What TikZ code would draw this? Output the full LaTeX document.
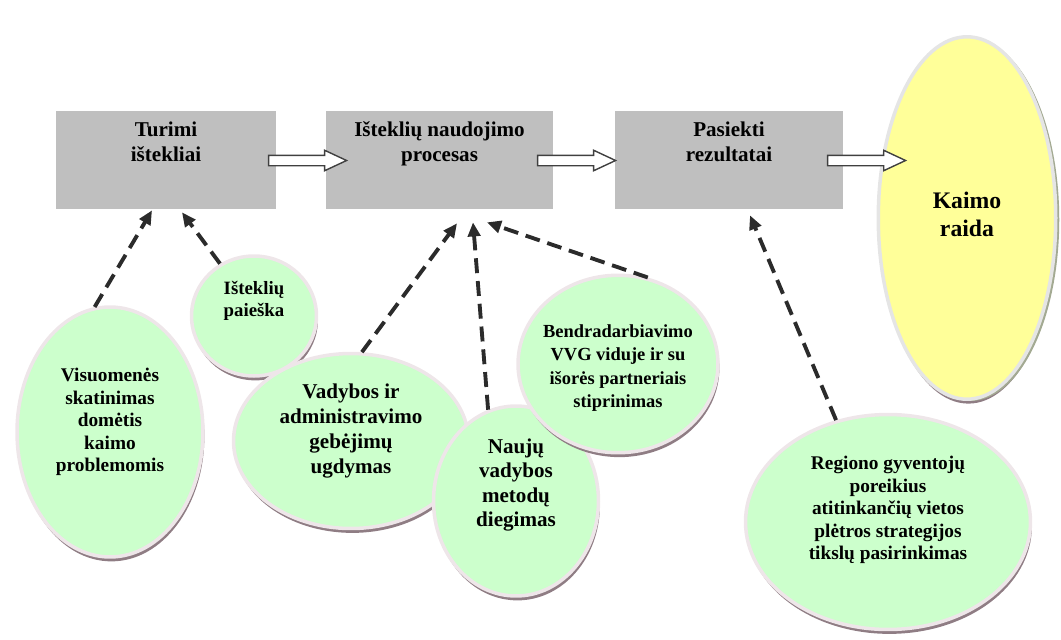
\documentclass[tikz,border=0pt]{standalone}
\usepackage{fontspec}
\setmainfont{Liberation Serif}
\usetikzlibrary{shapes.geometric,shapes.arrows,shadows,arrows.meta,positioning,calc}

\definecolor{boxgray}{HTML}{BFBFBF}
\definecolor{bubblegreen}{HTML}{CCFFCC}
\definecolor{bubbleyellow}{HTML}{FFFF99}
\definecolor{rimcolor}{HTML}{EEE6E9}
\definecolor{shadowcolor}{HTML}{8F7D84}
\definecolor{yshadow}{HTML}{A3AA92}
\definecolor{dashcolor}{HTML}{2B2B2B}

\tikzset{
  box/.style={rectangle, fill=boxgray, inner sep=0, minimum height=1.96cm},
  bubble/.style={ellipse, fill=bubblegreen, draw=rimcolor, line width=2pt, inner sep=0,
    drop shadow={shadow xshift=0.8pt, shadow yshift=-2.5pt, fill=shadowcolor, opacity=1}},
  txt/.style={inner sep=0, align=center},
  blockarr/.style={single arrow, draw=black!75, fill=white, line width=0.8pt, inner sep=0.09cm,
    minimum height=1.56cm, single arrow head extend=0.1cm, single arrow tip angle=50},
  dasharrow/.style={-{Triangle[length=8pt,width=7pt]}, draw=dashcolor, line width=2.2pt,
    dash pattern=on 8.5pt off 4.5pt}
}

\begin{document}
\begin{tikzpicture}[x=0.02cm, y=-0.02cm]
        \useasboundingbox (0,0) rectangle (1061,639);

        % Process chain
        \node[box, minimum width=4.4cm] (turimi) at (166,160) {};
        \node[box, minimum width=4.54cm] (procesas) at (439.5,160) {};
        \node[box, minimum width=4.56cm] (rezultatai) at (729,160) {};
        \node[txt, font=\bfseries\fontsize{12}{14.2}\selectfont, below=0.22cm of turimi.north] (turimitxt) {Turimi\\ištekliai};
        \node[txt, font=\bfseries\fontsize{12}{14.2}\selectfont, below=0.22cm of procesas.north] (procesastxt) {Išteklių naudojimo\\procesas};
        \node[txt, font=\bfseries\fontsize{12}{14.2}\selectfont, below=0.22cm of rezultatai.north] (rezultataitxt) {Pasiekti\\rezultatai};

        % Goal
        \node[bubble, fill=bubbleyellow, draw=black!10, minimum width=3.55cm, minimum height=7.25cm,
          drop shadow={shadow xshift=2pt, shadow yshift=-1pt, fill=yshadow, opacity=1}] (raida) at (967,218) {};
        \node[txt, font=\bfseries\fontsize{13.5}{16}\selectfont] (raidatxt) at ([yshift=0.08cm]raida.center) {Kaimo\\raida};

        % Block arrows
        \foreach \x/\name in {302/arr1, 571/arr2, 861/arr3}
            \node[blockarr] (\name) at (\x,160.5) {};

        % Factors
        \node[bubble, minimum width=3.72cm, minimum height=5cm] (visuom) at (110,432) {};
        \node[txt, font=\bfseries\fontsize{11}{12.8}\selectfont] (visuomtxt) at ([yshift=0.2cm]visuom.center)
            {Visuomenės\\skatinimas\\domėtis\\kaimo\\problemomis};

        \node[bubble, minimum width=2.5cm, minimum height=2.4cm] (paieska) at (254,316) {};
        \node[txt, font=\bfseries\fontsize{10.7}{12.5}\selectfont] (paieskatxt) at ([yshift=0.3cm]paieska.center)
            {Išteklių\\paieška};

        \node[bubble, minimum width=4.7cm, minimum height=3.5cm] (vadyba) at (351,441) {};
        \node[txt, font=\bfseries\fontsize{12}{14.2}\selectfont] (vadybatxt) at ([yshift=0.2cm]vadyba.center)
            {Vadybos ir\\administravimo\\gebėjimų\\ugdymas};

        \node[bubble, minimum width=3.3cm, minimum height=3.8cm] (metodai) at (516,501) {};
        \node[txt, font=\bfseries\fontsize{12}{14}\selectfont] (metodaitxt) at ([yshift=0.32cm]metodai.center)
            {Naujų\\vadybos\\metodų\\diegimas};

        \node[bubble, minimum width=4cm, minimum height=3.55cm] (bendr) at (618,364) {};
        \node[txt, font=\bfseries\fontsize{10.5}{13.2}\selectfont] (bendrtxt) at ([yshift=-0.08cm]bendr.center)
            {Bendradarbiavimo\\VVG viduje ir su\\išorės partneriais\\stiprinimas};

        \node[bubble, minimum width=5.7cm, minimum height=4.3cm] (regionas) at (888,522) {};
        \node[txt, font=\bfseries\fontsize{11}{12.8}\selectfont] (regionastxt) at ([yshift=0.24cm]regionas.center)
            {Regiono gyventojų\\poreikius\\atitinkančių vietos\\plėtros strategijos\\tikslų pasirinkimas};

        % Influences
        \draw[dasharrow] (visuom.97) -- ([shift={(-14,1)}]turimi.south);
        \draw[dasharrow] (paieska.123) -- ([shift={(16,3)}]turimi.south);
        \draw[dasharrow] (vadyba.83) -- ([shift={(17.5,14)}]procesas.south);
        \draw[dasharrow] (metodai.107) -- ([shift={(33.5,13)}]procesas.south);
        \draw[dasharrow] (bendr.71) -- ([shift={(47.5,13)}]procesas.south);
        \draw[dasharrow] (regionas.117) -- ([shift={(21,6)}]rezultatai.south);

    \end{tikzpicture}
\end{document}
